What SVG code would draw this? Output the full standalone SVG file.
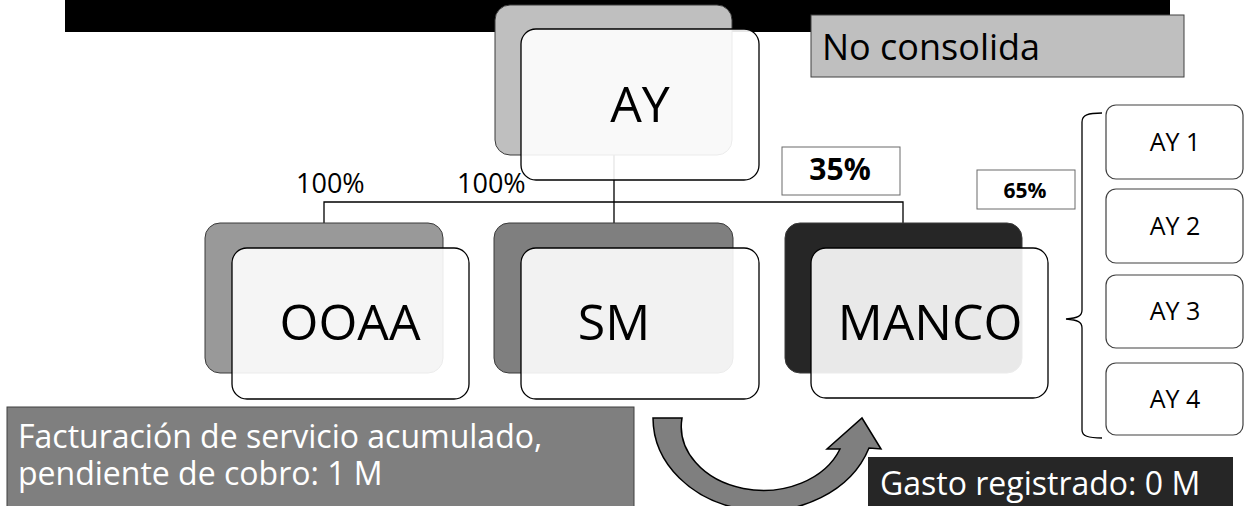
<svg xmlns="http://www.w3.org/2000/svg" width="1244" height="506" viewBox="0 0 1244 506">
<defs>
<style>
.back{stroke:#3a3a3a;stroke-width:1}
.front{fill:#ffffff;fill-opacity:0.9;stroke:#000;stroke-width:1.3}
.lbl{font-family:"Open Sans","Liberation Sans",sans-serif;font-size:50px;fill:#000;text-anchor:middle}
.pct{font-family:"Open Sans","Liberation Sans",sans-serif;font-size:27px;fill:#000}
.pbox{fill:#fff;stroke:#6a6a6a;stroke-width:1}
.ay{fill:#fff;stroke:#404040;stroke-width:1.2}
.ayt{font-family:"Open Sans","Liberation Sans",sans-serif;font-size:25px;fill:#000;text-anchor:middle}
.wt{font-family:"Open Sans","Liberation Sans",sans-serif;font-size:32px;fill:#fff}
.conn{fill:none;stroke:#000;stroke-width:1.3}
</style>
</defs>
<rect x="0" y="0" width="1244" height="506" fill="#fff"/>
<rect x="65" y="0" width="1105" height="32" fill="#000"/>
<g id="connectors">
<path class="conn" d="M614 155 V202 M324 223 V202 H903 V223 M614 202 V223"/>
</g>
<g id="node-AY">
<rect class="back" x="495" y="5" width="237" height="150" rx="15" fill="#bfbfbf"/>
<rect class="front" x="521" y="29" width="238" height="151" rx="15"/>
<text class="lbl" x="640" y="122">AY</text>
</g>
<g id="node-OOAA">
<rect class="back" x="205" y="223" width="238" height="150" rx="15" fill="#999999"/>
<rect class="front" x="232" y="248" width="237" height="151" rx="15"/>
<text class="lbl" x="350" y="340">OOAA</text>
</g>
<g id="node-SM">
<rect class="back" x="494" y="223" width="239" height="150" rx="15" fill="#7f7f7f"/>
<rect class="front" x="521" y="248" width="238" height="151" rx="15"/>
<text class="lbl" x="614" y="340">SM</text>
</g>
<g id="node-MANCO">
<rect class="back" x="785" y="223" width="237" height="150" rx="15" fill="#262626"/>
<rect class="front" x="811" y="248" width="237" height="150" rx="15"/>
<text class="lbl" x="930" y="340">MANCO</text>
</g>
<g id="labels">
<text class="pct" x="296" y="193">100%</text>
<text class="pct" x="457" y="193">100%</text>
</g>
<g id="no-consolida">
<rect x="811" y="15" width="373" height="62" fill="#bfbfbf" stroke="#404040" stroke-width="1"/>
<text x="822" y="60" font-family="'Open Sans','Liberation Sans',sans-serif" font-size="36" fill="#000">No consolida</text>
</g>
<g id="pct35">
<rect class="pbox" x="782" y="147" width="118" height="48"/>
<text x="840" y="180" font-family="'Open Sans','Liberation Sans',sans-serif" font-size="30" font-weight="bold" text-anchor="middle" fill="#000">35%</text>
</g>
<g id="pct65">
<rect class="pbox" x="977" y="170" width="98" height="39"/>
<text x="1025" y="198" font-family="'Open Sans','Liberation Sans',sans-serif" font-size="21" font-weight="bold" text-anchor="middle" fill="#000">65%</text>
</g>
<g id="brace">
<path class="conn" d="M1102 113 C1088 113 1082 115 1082 122 L1082 310 C1082 316 1078 318 1066 319 C1078 320 1082 322 1082 328 L1082 430 C1082 436 1088 438 1102 438"/>
</g>
<g id="node-AY1">
<rect class="ay" x="1106" y="105" width="137" height="74" rx="10"/>
<text class="ayt" x="1175" y="151">AY 1</text>
</g>
<g id="node-AY2">
<rect class="ay" x="1106" y="189" width="137" height="74" rx="10"/>
<text class="ayt" x="1175" y="235">AY 2</text>
</g>
<g id="node-AY3">
<rect class="ay" x="1106" y="275" width="137" height="73" rx="10"/>
<text class="ayt" x="1175" y="320">AY 3</text>
</g>
<g id="node-AY4">
<rect class="ay" x="1106" y="363" width="137" height="72" rx="10"/>
<text class="ayt" x="1175" y="408">AY 4</text>
</g>
<g id="facturacion">
<rect x="7" y="407" width="627" height="105" fill="#7f7f7f" stroke="#404040" stroke-width="1"/>
<text class="wt" x="18" y="448">Facturación de servicio acumulado,</text>
<text class="wt" x="18" y="485">pendiente de cobro: 1 M</text>
</g>
<g id="arrow">
<path d="M653 418 L682 418 A82 64 0 0 0 840 449 L827 449 L862 418 L881 449 L869 448 A111 93 0 0 1 653 418 Z" fill="#7f7f7f" stroke="#000" stroke-width="1.5" stroke-linejoin="miter"/>
</g>
<g id="gasto">
<rect x="868" y="457" width="365" height="55" fill="#262626"/>
<text class="wt" x="880" y="495">Gasto registrado: 0 M</text>
</g>
</svg>
